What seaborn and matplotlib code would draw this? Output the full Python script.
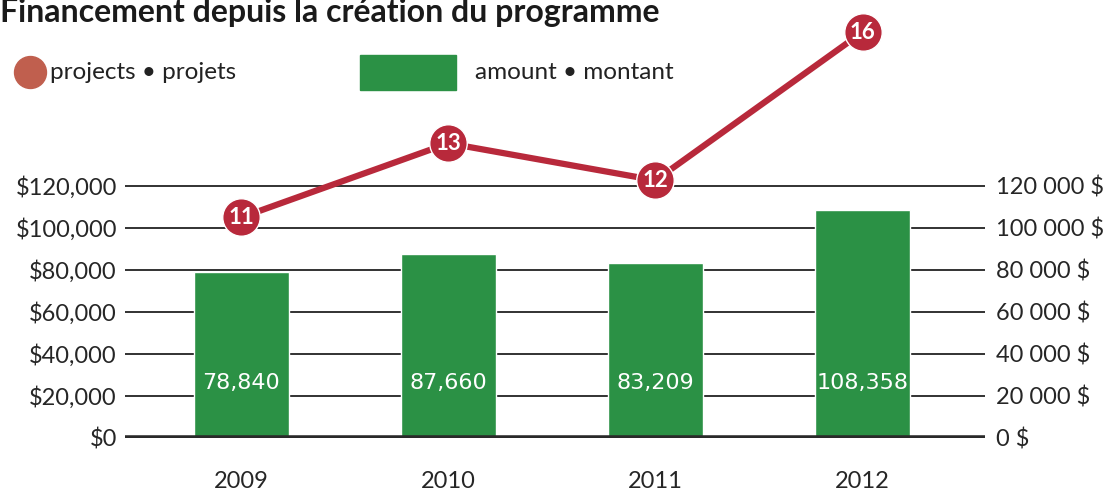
import matplotlib
matplotlib.use("Agg")
import matplotlib.pyplot as plt
import numpy as np
import pandas as pd
import seaborn as sb
from matplotlib.lines import Line2D
from matplotlib.patches import Rectangle

# donnees
ANNEES = ["2009", "2010", "2011", "2012"]
MONTANTS = [78840, 87660, 83209, 108358]
PROJETS = [11, 13, 12, 16]
TICKS_MONTANT = [0, 20000, 40000, 60000, 80000, 100000, 120000]
LABELS_GAUCHE = ["$0", "$20,000", "$40,000", "$60,000", "$80,000", "$100,000", "$120,000"]
LABELS_DROITE = ["0 $", "20 000 $", "40 000 $", "60 000 $", "80 000 $", "100 000 $", "120 000 $"]

VERT = "#2b9145"
ROUGE = "#b8293b"
ROUGE_LEGENDE = "#c05f4e"
FONTE = ["Lato", "DejaVu Sans"]


def main():
    sb.set_style("white")
    plt.rcParams["font.family"] = FONTE

    df = pd.DataFrame({"annee": ANNEES, "montant": MONTANTS, "projets": PROJETS})
    pos = np.arange(len(ANNEES))

    fig = plt.figure(figsize=(11.09, 4.91), dpi=100)
    ax = fig.add_axes([0.113, 0.108, 0.775, 0.872])

    # barres des montants
    sb.barplot(data=df, x="annee", y="montant", color=VERT, width=0.46,
               saturation=1, ax=ax, zorder=3)
    ax.set_xlim(-0.56, 3.59)
    ax.set_ylim(0, 203800)
    ax.set_yticks(TICKS_MONTANT)
    ax.set_yticklabels(LABELS_GAUCHE, fontsize=17)
    ax.set_xlabel("")
    ax.set_ylabel("")
    ax.tick_params(axis="x", labelsize=17, length=0, pad=24)
    ax.tick_params(axis="y", length=0, pad=6)
    for s in ax.spines.values():
        s.set_visible(False)
    for t in TICKS_MONTANT[1:]:
        ax.axhline(t, color="#222222", lw=1.3, zorder=1)
    ax.axhline(0, color="#2a2a2a", lw=4, zorder=4)

    # valeurs dans les barres
    for i, v in enumerate(MONTANTS):
        ax.text(pos[i], 26000, f"{v:,}", color="white", ha="center", va="center",
                fontsize=16, family="DejaVu Sans", zorder=5)

    # axe de droite (memes montants)
    ax2 = ax.twinx()
    ax2.set_ylim(ax.get_ylim())
    ax2.set_yticks(TICKS_MONTANT)
    ax2.set_yticklabels(LABELS_DROITE, fontsize=17)
    ax2.tick_params(axis="y", length=0, pad=8)
    for s in ax2.spines.values():
        s.set_visible(False)

    # ligne des projets
    ax3 = ax.twinx()
    sb.lineplot(x=pos, y=PROJETS, color=ROUGE, lw=4.5, ax=ax3, zorder=6,
                marker="o", markersize=27, markeredgecolor="white",
                markeredgewidth=1)
    ax3.set_ylim(5.05, 16.6)
    ax3.set_xlim(-0.56, 3.59)
    ax3.axis("off")
    for i, p in enumerate(PROJETS):
        ax3.text(pos[i], p, str(p), color="white", ha="center", va="center",
                 fontsize=16, fontweight="bold", zorder=7)

    # titre
    fig.text(0.0, 0.955, "Financement depuis la création du programme",
             fontsize=23, fontweight="bold", color="#1a1a1a", va="baseline")

    # legende
    fig.add_artist(Line2D([0.027], [0.853], marker="o", markersize=23,
                          color=ROUGE_LEGENDE, lw=0, transform=fig.transFigure))
    fig.text(0.045, 0.853, "projects • projets", fontsize=17.5, va="center", color="#222222")
    fig.add_artist(Rectangle((0.325, 0.817), 0.086, 0.071, color=VERT,
                             transform=fig.transFigure))
    fig.text(0.428, 0.853, "amount • montant", fontsize=17.5, va="center", color="#222222")

    fig.savefig("out.png", dpi=100)
    plt.close(fig)


if __name__ == "__main__":
    main()
